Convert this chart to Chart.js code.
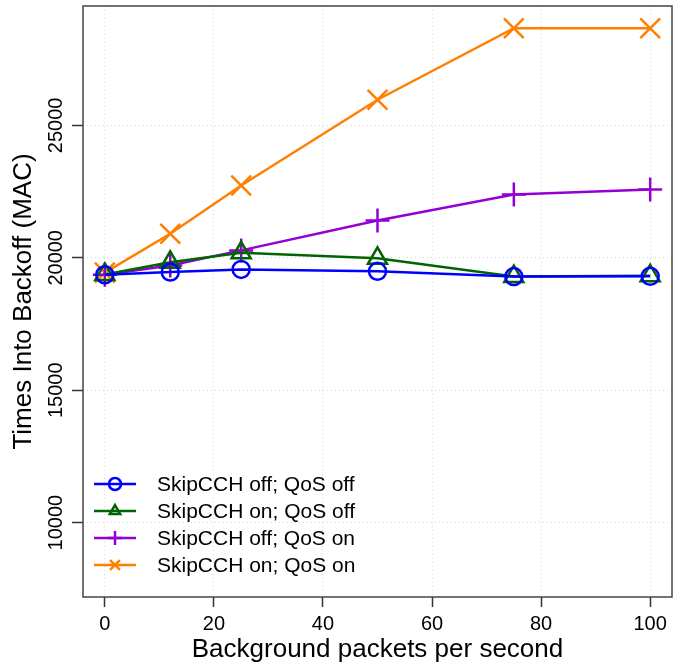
<!DOCTYPE html>
<html>
<head>
<meta charset="utf-8">
<script src="https://cdn.jsdelivr.net/npm/chart.js"></script>
<style>
  html, body { margin: 0; padding: 0; background: #fff; }
  #wrap { width: 692px; height: 671px; position: relative; }
</style>
</head>
<body>
<div id="wrap"><canvas id="myChart"></canvas></div>
<script>
// packets per second on the x axis
const rates = [0, 12, 25, 50, 75, 100];

// times into backoff, one array per configuration
const offOff = [19360, 19460, 19560, 19490, 19290, 19300];
const onOff = [19370, 19830, 20190, 19980, 19290, 19320];
const offOn = [19360, 19710, 20280, 21410, 22390, 22580];
const onOn = [19440, 20910, 22730, 25970, 28670, 28670];

const seriesNames = ["SkipCCH off; QoS off", "SkipCCH on; QoS off", "SkipCCH off; QoS on", "SkipCCH on; QoS on"];
const xTicks = [0, 20, 40, 60, 80, 100];
const yTicks = [10000, 15000, 20000, 25000];

const fontFamily = "'Liberation Sans', Arial, sans-serif";

function toPoints(values) {
    return rates.map((r, i) => ({ x: r, y: values[i] }));
}

const styles = [
    { color: "#0000ff", pointStyle: "circle", radius: 8.5 },
    { color: "#006400", pointStyle: "triangle", radius: 11 },
    { color: "#9400d3", pointStyle: "cross", radius: 12 },
    { color: "#ff8000", pointStyle: "crossRot", radius: 14 },
];

const allValues = [offOff, onOff, offOn, onOn];

const datasets = allValues.map((vals, i) => ({
    label: seriesNames[i],
    data: toPoints(vals),
    borderColor: styles[i].color,
    backgroundColor: "rgba(0,0,0,0)",
    borderWidth: 2.5,
    pointStyle: styles[i].pointStyle,
    pointRadius: styles[i].radius,
    pointBorderWidth: 2.5,
    pointBorderColor: styles[i].color,
    pointBackgroundColor: "rgba(0,0,0,0)",
    tension: 0,
    clip: false,
}));

//box around the plot region and the legend in the lower left
const framePlugin = {
    id: "frame",
    afterDraw(chart) {
        const { ctx, chartArea: a } = chart;
        ctx.save();
        ctx.strokeStyle = "#444";
        ctx.lineWidth = 1.5;
        ctx.strokeRect(a.left, a.top, a.right - a.left, a.bottom - a.top);

        const rowY = [484, 511, 538, 565];
        ctx.font = "21px " + fontFamily;
        ctx.textBaseline = "middle";
        ctx.textAlign = "left";
        seriesNames.forEach((name, i) => {
            const y = rowY[i];
            ctx.strokeStyle = styles[i].color;
            ctx.fillStyle = "rgba(0,0,0,0)";
            ctx.lineWidth = 2.5;
            ctx.beginPath();
            ctx.moveTo(94, y);
            ctx.lineTo(136, y);
            ctx.stroke();
            Chart.helpers.drawPoint(ctx, {
                pointStyle: styles[i].pointStyle,
                radius: i < 2 ? 6 : 7,
                rotation: 0,
                borderWidth: 2,
            }, 115, y);
            ctx.fillStyle = "#000";
            ctx.fillText(name, 157, y + 1);
        });
        ctx.restore();
    },
};

const config = {
    type: "line",
    data: { datasets: datasets },
    options: {
        responsive: true,
        maintainAspectRatio: false,
        animation: false,
        layout: { autoPadding: false, padding: { top: 6, right: 20, left: 0, bottom: 0 } },
        plugins: {
            legend: { display: false },
            tooltip: { enabled: false },
        },
        scales: {
            x: {
                type: "linear",
                min: -4,
                max: 104,
                afterBuildTicks: (axis) => {
                    axis.ticks = xTicks.map((v) => ({ value: v }));
                },
                afterFit: (axis) => {
                    axis.height = 74;
                    axis.paddingLeft = 0;
                    axis.paddingRight = 0;
                },
                ticks: {
                    color: "#000",
                    font: { family: fontFamily, size: 20 },
                    padding: 5,
                    maxRotation: 0,
                    callback: (v) => String(v),
                },
                grid: {
                    color: "#d8d8d8",
                    lineWidth: 1,
                    tickColor: "#333",
                    tickLength: 10,
                    tickWidth: 1.5,
                    tickBorderDash: [],
                },
                border: { display: false, dash: [1, 3] },
                title: {
                    display: true,
                    text: "Background packets per second",
                    color: "#000",
                    font: { family: fontFamily, size: 26 },
                    padding: { top: 0, bottom: 6 },
                },
            },
            y: {
                type: "linear",
                min: 7190,
                max: 29510,
                afterBuildTicks: (axis) => {
                    axis.ticks = yTicks.map((v) => ({ value: v }));
                },
                afterFit: (axis) => {
                    axis.width = 83;
                    axis.paddingTop = 0;
                    axis.paddingBottom = 0;
                },
                ticks: {
                    color: "#000",
                    font: { family: fontFamily, size: 20 },
                    minRotation: 90,
                    maxRotation: 90,
                    crossAlign: "center",
                    padding: -12,
                    callback: (v) => String(v),
                },
                grid: {
                    color: "#d8d8d8",
                    lineWidth: 1,
                    tickColor: "#333",
                    tickLength: 11,
                    tickWidth: 1.5,
                    tickBorderDash: [],
                },
                border: { display: false, dash: [1, 3] },
                title: {
                    display: true,
                    text: "Times Into Backoff (MAC)",
                    color: "#000",
                    font: { family: fontFamily, size: 26 },
                    padding: { top: 8, bottom: 0 },
                },
            },
        },
    },
    plugins: [framePlugin],
};

const myChart = new Chart(document.querySelector("#myChart"), config);
</script>
</body>
</html>
